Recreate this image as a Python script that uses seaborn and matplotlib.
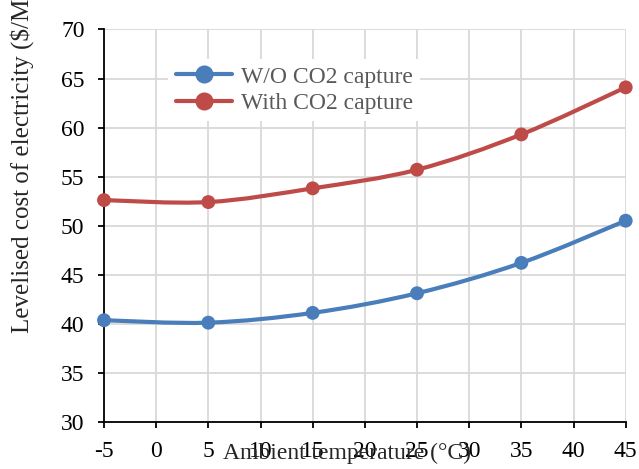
import numpy as np
import pandas as pd
import seaborn as sns
import matplotlib
matplotlib.use("Agg")
import matplotlib.pyplot as plt
from matplotlib.path import Path
from matplotlib.patches import PathPatch
from matplotlib.lines import Line2D

# ---- data ----
temperature = [-5, 5, 15, 25, 35, 45]
lcoe_without_capture = [40.35, 40.1, 41.1, 43.1, 46.2, 50.5]
lcoe_with_capture = [52.6, 52.4, 53.8, 55.7, 59.3, 64.1]
series_names = ["W/O CO2 capture", "With CO2 capture"]
x_ticks = [-5, 0, 5, 10, 15, 20, 25, 30, 35, 40, 45]
y_ticks = [30, 35, 40, 45, 50, 55, 60, 65, 70]
x_label = "Ambient temperature (°C)"
y_label = "Levelised cost of electricity ($/MWh)"

colors = ["#4A7EBB", "#BE4B48"]

sns.set_style("white")
plt.rcParams["font.family"] = ["Liberation Serif", "DejaVu Serif"]

fig = plt.figure(figsize=(6.39, 4.69), dpi=100)
W, H = 639, 469
ax_left, ax_right, ax_top, ax_bottom = 104, 625.7, 29.5, 421.7
ax = fig.add_axes([ax_left / W, (H - ax_bottom) / H,
                   (ax_right - ax_left) / W, (ax_bottom - ax_top) / H])

df = pd.DataFrame({
    "T": temperature * 2,
    "LCOE": lcoe_without_capture + lcoe_with_capture,
    "Case": [series_names[0]] * 6 + [series_names[1]] * 6,
})


def smooth_path(xs, ys):
    """Excel-like smoothed line as cubic Bezier segments through the data points."""
    pts = np.column_stack([xs, ys]).astype(float)
    n = len(pts)
    verts = [pts[0]]
    codes = [Path.MOVETO]
    for i in range(n - 1):
        p0 = pts[i - 1] if i > 0 else pts[i]
        p1 = pts[i]
        p2 = pts[i + 1]
        p3 = pts[i + 2] if i + 2 < n else pts[i + 1]
        c1 = p1 + (p2 - p0) / 6.0
        c2 = p2 - (p3 - p1) / 6.0
        verts += [c1, c2, p2]
        codes += [Path.CURVE4] * 3
    return Path(verts, codes)


for name, col in zip(series_names, colors):
    sub = df[df["Case"] == name]
    patch = PathPatch(smooth_path(sub["T"].values, sub["LCOE"].values),
                      facecolor="none", edgecolor=col, lw=3.0,
                      transform=ax.transData, zorder=3, clip_on=False,
                      capstyle="round", joinstyle="round")
    ax.add_patch(patch)

sns.scatterplot(data=df, x="T", y="LCOE", hue="Case", palette=colors,
                s=100, edgecolor="none", legend=False, ax=ax, zorder=4,
                clip_on=False)

ax.set_xlim(-5, 45)
ax.set_ylim(30, 70)
ax.set_xticks(x_ticks)
ax.set_yticks(y_ticks)
ax.set_xticklabels([str(t) for t in x_ticks])
ax.set_yticklabels([str(t) for t in y_ticks])
ax.grid(True, color="#D9D9D9", lw=1.3)
ax.set_axisbelow(True)
for s in ["top", "right"]:
    ax.spines[s].set_visible(False)
for s in ["left", "bottom"]:
    ax.spines[s].set_color("black")
    ax.spines[s].set_linewidth(1.3)
ax.tick_params(axis="both", direction="out", length=4, width=1.3,
               colors="black", labelsize=17, bottom=True, left=True)
ax.tick_params(axis="x", pad=10)
ax.tick_params(axis="y", pad=10)
ax.set_xlabel("")
ax.set_ylabel("")

fig.text(223 / W, 1 - 453.5 / H, x_label, ha="left", va="center", fontsize=17)
fig.text(22 / W, 1 - 333 / H, y_label, ha="center", va="bottom",
         rotation=90, fontsize=18)

handles = [Line2D([], [], color=c, lw=3.0, marker="o", markersize=13,
                  markeredgecolor="none") for c in colors]
leg = ax.legend(handles, series_names, loc="upper left",
                bbox_to_anchor=(0.101, 0.955), frameon=True, fontsize=17,
                handlelength=2.4, handletextpad=0.35, labelspacing=0.2,
                borderpad=0.3, labelcolor="#595959")
leg.get_frame().set_facecolor("white")
leg.get_frame().set_edgecolor("none")
leg.get_frame().set_alpha(1)
leg.get_frame().set_boxstyle("square", pad=0)

fig.savefig("out.png", dpi=100)
